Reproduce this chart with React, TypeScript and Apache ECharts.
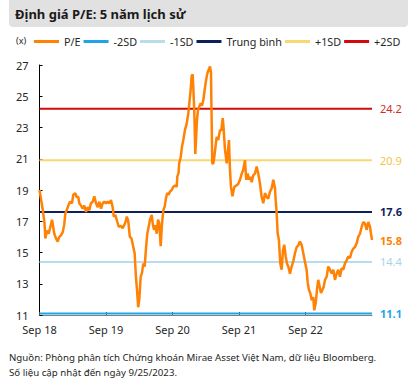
import { useEffect, useRef } from "react";
import * as echarts from "echarts";

// months since Sep 2018
const months = [
  0, 0.6, 0.9, 1.05, 1.35, 1.66, 1.9, 2.26, 2.67, 2.98, 3.28, 3.57, 3.88, 4.19, 4.47, 4.66, 4.9, 5.2, 5.5, 5.86,
  6.1, 6.46, 6.71, 7.0, 7.18, 7.49, 7.8, 8.08, 8.39, 8.7, 8.99, 9.29, 9.6, 9.89, 10.2, 10.5, 10.8, 11.1, 11.4, 11.7,
  12.0, 12.3, 12.6, 12.9, 13.2, 13.4, 13.7, 14.0, 14.3, 14.7, 15.0, 15.3, 15.6, 15.75, 16.0, 16.3, 16.6, 16.9, 17.17, 17.4,
  17.64, 17.8, 18.0, 18.26, 18.5, 18.73, 18.98, 19.2, 19.45, 19.7, 19.94, 20.25, 20.43, 20.66, 20.9, 21.15, 21.38, 21.6, 21.87, 22.1,
  22.34, 22.6, 22.83, 23.06, 23.3, 23.55, 23.85, 24.14, 24.45, 24.76, 24.86, 25.1, 25.2, 25.48, 25.7, 25.95, 26.25, 26.56, 26.85, 27.03,
  27.28, 27.46, 27.64, 27.75, 27.93, 28.11, 28.24, 28.42, 28.6, 28.83, 29.08, 29.32, 29.56, 29.8, 30.04, 30.28, 30.53, 30.77, 30.95, 31.0,
  31.18, 31.36, 31.54, 31.97, 32.26, 32.57, 32.8, 33.06, 33.17, 33.47, 33.78, 34.01, 34.19, 34.37, 34.55, 34.82, 35.15, 35.58, 35.87, 36.18,
  36.49, 36.77, 37.08, 37.31, 37.57, 37.8, 38.04, 38.29, 38.58, 38.89, 39.19, 39.48, 39.79, 40.09, 40.38, 40.69, 41.0, 41.28, 41.59, 41.9,
  42.19, 42.5, 42.62, 42.8, 42.98, 43.2, 43.45, 43.7, 43.94, 44.17, 44.42, 44.66, 44.89, 45.2, 45.5, 45.8, 46.1, 46.41, 46.7, 46.99,
  47.3, 47.6, 47.9, 48.2, 48.4, 48.63, 48.86, 49.12, 49.4, 49.58, 49.84, 50.07, 50.3, 50.56, 50.79, 51.03, 51.28, 51.52, 51.82, 52.11,
  52.42, 52.72, 53.01, 53.32, 53.62, 53.92, 54.22, 54.53, 54.82, 55.12, 55.43, 55.72, 56.03, 56.33, 56.62, 56.93, 57.24, 57.52, 57.83, 58.14,
  58.43, 58.74, 59.04, 59.33, 59.64, 59.82, 60.0,
];

const pe = [
  19.0, 17.7, 16.9, 15.9, 16.4, 16.2, 16.55, 17.1, 16.2, 15.9, 15.7, 16.0, 16.1, 16.3, 16.8, 17.5, 17.7, 18.0, 18.25, 18.15,
  18.7, 18.8, 18.55, 18.55, 18.15, 18.0, 17.8, 18.0, 17.6, 17.9, 17.7, 18.15, 18.25, 18.6, 18.15, 17.9, 18.25, 17.8, 18.15, 18.25,
  18.15, 18.25, 18.15, 18.35, 17.9, 17.3, 17.4, 17.0, 16.65, 16.7, 16.55, 16.75, 17.05, 17.3, 17.05, 16.0, 15.9, 15.4, 14.95, 13.45,
  12.4, 11.5, 11.95, 13.45, 13.7, 14.3, 14.1, 15.2, 16.2, 16.65, 17.1, 17.4, 16.85, 16.45, 16.75, 16.2, 17.1, 16.9, 15.4, 16.8,
  17.7, 17.95, 18.5, 18.8, 18.7, 18.9, 19.0, 19.2, 19.3, 19.2, 19.85, 20.1, 20.7, 21.1, 21.75, 22.2, 22.85, 23.25, 23.9, 24.55,
  25.4, 26.3, 26.4, 25.6, 24.1, 21.3, 22.2, 23.5, 24.1, 24.35, 24.55, 24.4, 24.75, 25.4, 26.0, 26.45, 26.7, 26.9, 26.5, 25.0,
  20.7, 20.7, 21.1, 22.4, 22.2, 22.85, 22.8, 23.6, 23.2, 21.6, 20.7, 21.5, 22.2, 20.3, 19.2, 18.6, 19.2, 19.3, 19.4, 19.65,
  20.05, 20.3, 20.9, 19.65, 20.05, 19.65, 19.85, 19.5, 19.95, 20.05, 20.5, 20.05, 19.4, 18.55, 18.15, 18.8, 18.55, 18.45, 18.9, 19.1,
  19.65, 19.1, 18.35, 17.5, 16.2, 15.8, 14.3, 13.9, 15.15, 15.5, 14.75, 14.3, 14.1, 13.65, 14.1, 14.45, 14.95, 15.35, 15.45, 15.7,
  15.5, 14.95, 14.4, 13.9, 13.05, 12.6, 12.4, 11.95, 12.15, 11.3, 11.75, 12.6, 13.25, 12.8, 12.4, 12.6, 12.8, 13.25, 13.45, 14.1,
  13.9, 13.65, 13.9, 13.25, 13.65, 13.9, 13.45, 14.0, 13.9, 14.3, 14.5, 14.75, 14.65, 15.05, 15.25, 15.35, 15.6, 16.0, 16.2, 16.65,
  16.95, 16.85, 16.45, 16.95, 16.65, 16.2, 15.8,
];

const bandNames = ["-2SD", "-1SD", "Trung bình", "+1SD", "+2SD"];
const bandValues = [11.1, 14.4, 17.6, 20.9, 24.2];
const bandColors = ["#1ea5e9", "#b6dcee", "#0e1f5e", "#f9d774", "#d40a0a"];
const bandLabelColors = ["#1ea5e9", "#a9d3ea", "#0e1f5e", "#f5c53f", "#d42a2a"];
const bandLabelBold = [true, false, true, false, false];

const xTickValues = [0, 12, 24, 36, 48];
const xTickLabels = ["Sep 18", "Sep 19", "Sep 20", "Sep 21", "Sep 22"];

const peColor = "#ff8205";
const FONT = "Noto Sans";

export default function App() {
  const ref = useRef<HTMLDivElement>(null);
  useEffect(() => {
    if (!ref.current) return;
    const chart = echarts.init(ref.current, null, { renderer: "svg" });
    const peData = months.map((m, i) => [m, pe[i]]);
    const bandSeries = bandNames.map((name, i) => ({
      name,
      type: "line",
      data: [
        [0, bandValues[i]],
        [60, bandValues[i]],
      ],
      showSymbol: false,
      symbol: "none",
      color: bandColors[i],
      itemStyle: { color: bandColors[i] },
      lineStyle: { color: bandColors[i], width: 2 },
      z: 2,
      silent: true,
      endLabel: {
        show: true,
        distance: 8,
        formatter: () => bandValues[i].toFixed(1),
        color: bandLabelColors[i],
        fontFamily: FONT,
        fontSize: 11,
        fontWeight: bandLabelBold[i] ? "bold" : "normal",
      },
    }));
    chart.setOption({
      animation: false,
      textStyle: { fontFamily: FONT },
      grid: { left: 39.5, right: 41, top: 65, bottom: 73, containLabel: false },
      legend: {
        top: 36,
        left: 34,
        padding: 0,
        itemWidth: 25,
        itemHeight: 3,
        itemGap: 3,
        icon: "rect",
        textStyle: { fontSize: 10.8, color: "#262626", fontFamily: FONT },
        data: ["P/E", ...bandNames],
      },
      xAxis: {
        type: "value",
        min: 0,
        max: 60,
        interval: 12,
        splitLine: { show: false },
        axisLine: { show: true, lineStyle: { color: "#808080", width: 1 } },
        axisTick: { show: true, inside: true, length: 3, lineStyle: { color: "#404040" }, customValues: xTickValues },
        axisLabel: {
          customValues: xTickValues,
          formatter: (v: number) => xTickLabels[Math.round(v / 12)] ?? "",
          color: "#262626",
          fontSize: 11,
          margin: 9,
          fontFamily: FONT,
        },
      },
      yAxis: {
        type: "value",
        min: 11,
        max: 27,
        interval: 2,
        splitLine: { show: false },
        axisLine: { show: true, lineStyle: { color: "#000", width: 1 } },
        axisTick: { show: true, inside: true, length: 3, lineStyle: { color: "#000" } },
        axisLabel: { color: "#262626", fontSize: 11, margin: 11, fontFamily: FONT },
      },
      series: [
        {
          name: "P/E",
          type: "line",
          data: peData,
          showSymbol: false,
          symbol: "none",
          color: peColor,
          itemStyle: { color: peColor },
          lineStyle: { color: peColor, width: 2.5 },
          z: 5,
          silent: true,
          endLabel: {
            show: true,
            distance: 8,
            formatter: (p: any) => Number(p.value[1]).toFixed(1),
            color: peColor,
            fontFamily: FONT,
            fontSize: 11,
            fontWeight: "bold",
          },
        },
        ...bandSeries,
      ],
      graphic: [
        {
          type: "rect",
          shape: { x: 9, y: -4, width: 399, height: 31, r: 4 },
          style: { fill: "#e1e1e1" },
          z: 0,
        },
        {
          type: "text",
          x: 15,
          y: 14,
          style: {
            text: "Định giá P/E: 5 năm lịch sử",
            fontFamily: FONT,
            fontSize: 13,
            fontWeight: "bold",
            fill: "#1a1a1a",
            textVerticalAlign: "middle",
          },
        },
        {
          type: "text",
          x: 16,
          y: 40,
          style: { text: "(x)", fontFamily: FONT, fontSize: 9, fill: "#262626", textVerticalAlign: "middle" },
        },
        {
          type: "text",
          x: 9,
          y: 357,
          style: {
            text: "Nguồn: Phòng phân tích Chứng khoán Mirae Asset Việt Nam, dữ liệu Bloomberg.",
            fontFamily: FONT,
            fontSize: 9.7,
            fill: "#262626",
            textVerticalAlign: "middle",
          },
        },
        {
          type: "text",
          x: 9,
          y: 372,
          style: {
            text: "Số liệu cập nhật đến ngày 9/25/2023.",
            fontFamily: FONT,
            fontSize: 9.7,
            fill: "#262626",
            textVerticalAlign: "middle",
          },
        },
      ],
    });
    return () => chart.dispose();
  }, []);
  return (
    <div
      ref={ref}
      style={{ position: "fixed", left: 0, top: 0, width: 413, height: 388, background: "#fff" }}
    />
  );
}
